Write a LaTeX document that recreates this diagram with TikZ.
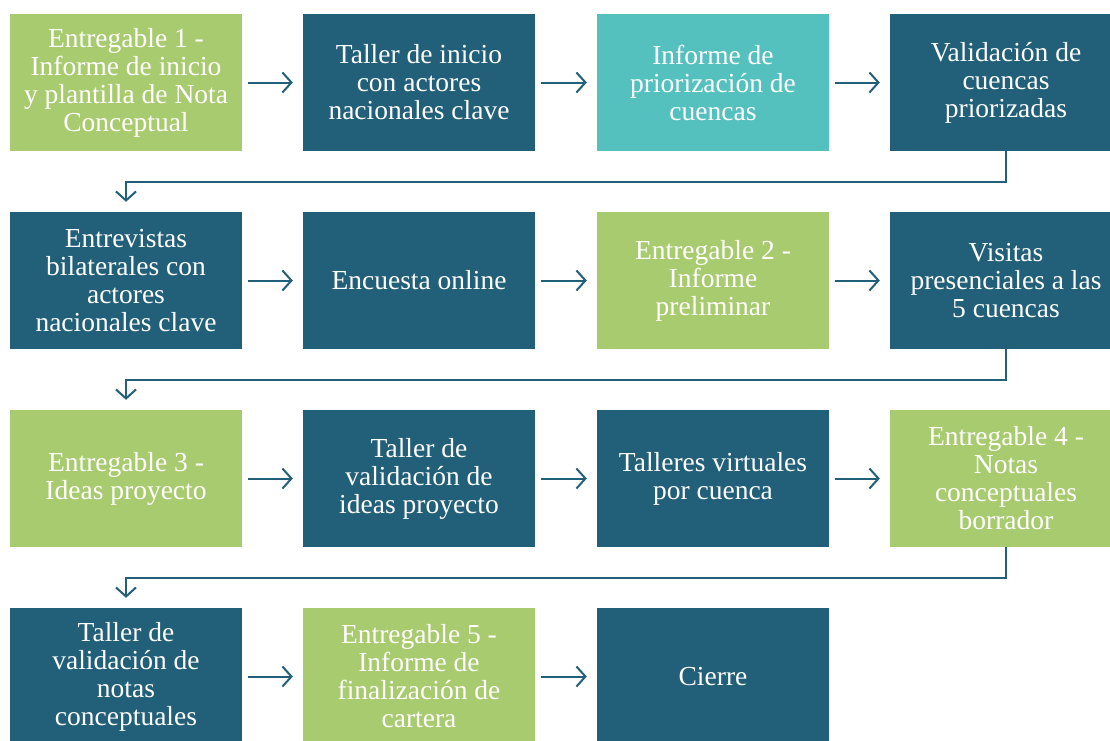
\documentclass[tikz,border=0pt]{standalone}
\usepackage{fontspec}
\setmainfont{Liberation Serif}
\usetikzlibrary{arrows.meta,positioning}

\definecolor{darkteal}{RGB}{34,95,120}
\definecolor{leafgreen}{RGB}{169,203,111}
\definecolor{lightteal}{RGB}{85,193,191}

\tikzset{
  stepbox/.style={fill=darkteal, text=white, minimum width=232pt, minimum height=137pt,
    inner sep=0pt, align=center, font=\fontsize{27.5}{28}\selectfont},
  deliv/.style={stepbox, fill=leafgreen},
  report/.style={stepbox, fill=lightteal},
  flow/.style={draw=darkteal, line width=2pt, -{Straight Barb[length=9pt,width=20pt]}}
}

\begin{document}
\begin{tikzpicture}[x=1pt,y=-1pt]

\useasboundingbox (0,0) rectangle (1110,740);

% Row 1
\node[deliv] (inicio) at (126,82.5) {Entregable 1 -\\Informe de inicio\\y plantilla de Nota\\Conceptual};
\node[stepbox] (tallerini) at (419,82.5) {Taller de inicio\\con actores\\nacionales clave};
\node[report] (priori) at (713,82.5) {Informe de\\priorización de\\cuencas};
\node[stepbox] (validcue) at (1006,82.5) {Validación de\\cuencas\\priorizadas};

% Row 2
\node[stepbox] (entrev) at (126,280.5) {Entrevistas\\bilaterales con\\actores\\nacionales clave};
\node[stepbox] (encuesta) at (419,280.5) {Encuesta online};
\node[deliv] (prelim) at (713,280.5) {Entregable 2 -\\Informe\\preliminar};
\node[stepbox] (visitas) at (1006,280.5) {Visitas\\presenciales a las\\5 cuencas};

% Row 3
\node[deliv] (ideas) at (126,478.5) {Entregable 3 -\\Ideas proyecto};
\node[stepbox] (validideas) at (419,478.5) {Taller de\\validación de\\ideas proyecto};
\node[stepbox] (virtuales) at (713,478.5) {Talleres virtuales\\por cuenca};
\node[deliv] (borrador) at (1006,478.5) {Entregable 4 -\\Notas\\conceptuales\\borrador};

% Row 4
\node[stepbox] (validnotas) at (126,676.5) {Taller de\\validación de\\notas\\conceptuales};
\node[deliv] (cartera) at (419,676.5) {Entregable 5 -\\Informe de\\finalización de\\cartera};
\node[stepbox] (cierre) at (713,676.5) {Cierre};

% Arrows inside each row
\foreach \a/\b in {inicio/tallerini, tallerini/priori, priori/validcue,
                   entrev/encuesta, encuesta/prelim, prelim/visitas,
                   ideas/validideas, validideas/virtuales, virtuales/borrador,
                   validnotas/cartera, cartera/cierre} {
  \draw[flow] ([xshift=6pt]\a.east) -- ([xshift=-10pt]\b.west);
}

% Wrap to the next row
\draw[flow] (validcue.south) -- ++(0,31) -| ([yshift=10pt]entrev.north);
\draw[flow] (visitas.south) -- ++(0,31) -| ([yshift=10pt]ideas.north);
\draw[flow] (borrador.south) -- ++(0,31) -| ([yshift=10pt]validnotas.north);

\end{tikzpicture}
\end{document}
